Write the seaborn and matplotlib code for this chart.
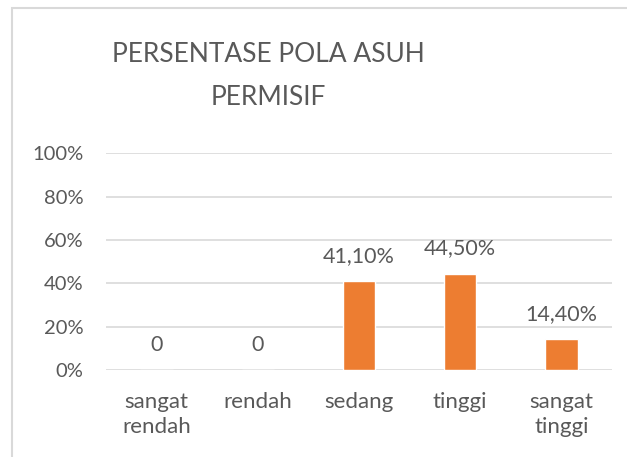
import pandas as pd
import seaborn as sns
import matplotlib.pyplot as plt
from matplotlib.ticker import PercentFormatter
from matplotlib.patches import Rectangle

# --- data -------------------------------------------------------------------
categories = ["sangat\nrendah", "rendah", "sedang", "tinggi", "sangat\ntinggi"]
percent = [0.0, 0.0, 41.1, 44.5, 14.4]
value_labels = ["0", "0", "41,10%", "44,50%", "14,40%"]

df = pd.DataFrame({"kategori": categories, "persen": percent})

# --- style ------------------------------------------------------------------
sns.set_style("white")
plt.rcParams["font.family"] = ["Lato", "DejaVu Sans"]
text_grey = "#595959"
orange = "#ED7D31"

fig = plt.figure(figsize=(6.27, 4.57), dpi=100)
ax = fig.add_axes([0.169, 0.190, 0.807, 0.475])

sns.barplot(data=df, x="kategori", y="persen", color=orange, width=0.32,
            saturation=1, ax=ax)

ax.set_ylim(0, 100)
ax.set_xlim(-0.5, 4.5)
ax.set_yticks(range(0, 101, 20))
ax.yaxis.set_major_formatter(PercentFormatter(decimals=0))
ax.grid(axis="y", color="#D9D9D9", linewidth=1.2)
ax.set_axisbelow(True)
for s in ax.spines.values():
    s.set_visible(False)
ax.tick_params(axis="both", length=0, colors=text_grey)
ax.tick_params(axis="x", pad=16, labelsize=16)
ax.tick_params(axis="y", pad=16, labelsize=14.5)
ax.set_xlabel("")
ax.set_ylabel("")
for lbl in ax.get_xticklabels():
    lbl.set_linespacing(1.3)

# value labels above the bars
for i, (v, txt) in enumerate(zip(percent, value_labels)):
    ax.annotate(txt, (i, v), xytext=(0, 11), textcoords="offset points",
                ha="center", va="bottom", fontsize=15.5, color=text_grey)

fig.text(0.428, 0.833, "PERSENTASE POLA ASUH\nPERMISIF", ha="center",
         va="center", fontsize=19, color=text_grey, linespacing=1.9)

# chart frame (left and top edges visible in the reference)
fig.patches.append(Rectangle((12 / 627, -0.1), 1.2, 1 - 8 / 457 + 0.1,
                             transform=fig.transFigure, fill=False,
                             edgecolor="#D9D9D9", linewidth=1.5))

fig.savefig("out.png", dpi=100)
